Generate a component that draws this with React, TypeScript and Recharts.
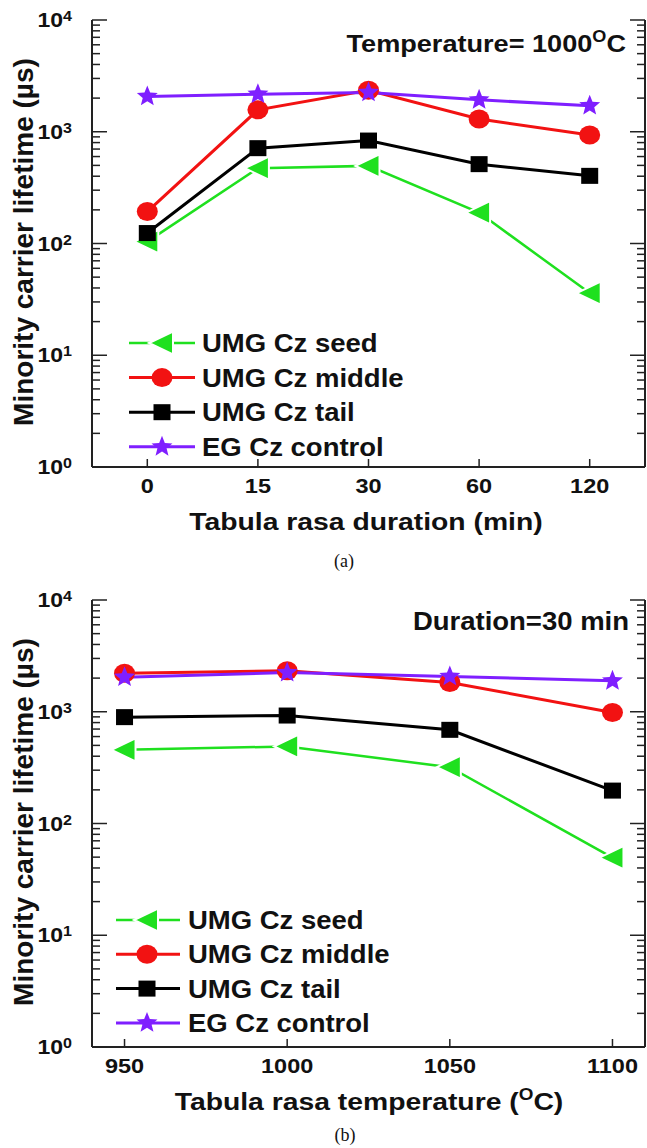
import React from 'react';
import { LineChart, Line, XAxis, YAxis, Legend } from 'recharts';

// panel (a): lifetime vs tabula rasa duration at 1000 C
const durationLabels = ['0', '15', '30', '60', '120'];
const durationSeed = [104, 472, 495, 189, 36];
const durationMiddle = [193, 1570, 2350, 1300, 935];
const durationTail = [124, 713, 834, 513, 403];
const durationControl = [2070, 2170, 2250, 1930, 1710];

// panel (b): lifetime vs tabula rasa temperature, 30 min
const temperatures = [950, 1000, 1050, 1100];
const temperatureSeed = [456, 489, 319, 49.5];
const temperatureMiddle = [2210, 2330, 1830, 985];
const temperatureTail = [895, 925, 689, 197];
const temperatureControl = [2040, 2240, 2070, 1890];

const seriesNames = ['UMG Cz seed', 'UMG Cz middle', 'UMG Cz tail', 'EG Cz control'];
const majorTicks = [1, 10, 100, 1000, 10000];

const FONT = '"Liberation Sans", Arial, Helvetica, sans-serif';
const AXIS = '#222';
const TEXT = '#111';

const seriesStyle = [
  { key: 'seed', color: '#1fe01f', shape: 'triangle', width: 2.5 },
  { key: 'middle', color: '#f21212', shape: 'circle', width: 3 },
  { key: 'tail', color: '#000000', shape: 'square', width: 3 },
  { key: 'control', color: '#7f1fff', shape: 'star', width: 3 },
];

const durationData = durationLabels.map((label, i) => ({
  idx: i,
  label,
  seed: durationSeed[i],
  middle: durationMiddle[i],
  tail: durationTail[i],
  control: durationControl[i],
}));

const temperatureData = temperatures.map((t, i) => ({
  temp: t,
  seed: temperatureSeed[i],
  middle: temperatureMiddle[i],
  tail: temperatureTail[i],
  control: temperatureControl[i],
}));

// minor ticks 2..9 inside every decade
const allTicks: number[] = [];
majorTicks.forEach((m, i) => {
  allTicks.push(m);
  if (i < majorTicks.length - 1) {
    for (let k = 2; k <= 9; k++) allTicks.push(m * k);
  }
});

const isMajor = (v: number) => {
  const l = Math.log10(v);
  return Math.abs(l - Math.round(l)) < 1e-6;
};

function starPoints(cx: number, cy: number, R: number, r: number) {
  const pts: string[] = [];
  for (let i = 0; i < 10; i++) {
    const a = -Math.PI / 2 + (i * Math.PI) / 5;
    const rad = i % 2 === 0 ? R : r;
    pts.push(`${cx + rad * Math.cos(a)},${cy + rad * Math.sin(a)}`);
  }
  return pts.join(' ');
}

const Marker = ({ shape, color, cx, cy }: any) => {
  if (cx == null || cy == null) return null;
  switch (shape) {
    case 'triangle':
      return (
        <polygon
          points={`${cx - 13},${cy} ${cx + 11},${cy - 11.5} ${cx + 11},${cy + 11.5}`}
          fill={color}
          stroke="#fff"
          strokeWidth={2}
        />
      );
    case 'circle':
      return <ellipse cx={cx} cy={cy} rx={10.5} ry={9.5} fill={color} />;
    case 'square':
      return <rect x={cx - 8.5} y={cy - 8} width={17} height={16} fill={color} />;
    default:
      return <polygon points={starPoints(cx, cy, 11, 4.8)} fill={color} />;
  }
};

const LeftTick = (props: any) => {
  const { x, y, payload } = props;
  const v = payload.value;
  const major = isMajor(v);
  const exp = Math.round(Math.log10(v));
  return (
    <g>
      <line x1={x} x2={x + (major ? 15 : 8)} y1={y} y2={y} stroke={AXIS} strokeWidth={1.5} />
      {major && (
        <g transform={`translate(${x - 20},${y + 7}) scale(1.15,1)`}>
          <text textAnchor="end" fontFamily={FONT} fontWeight="bold" fontSize={20} fill={TEXT}>
            10
            <tspan dy={-6} fontSize={14}>
              {exp}
            </tspan>
          </text>
        </g>
      )}
    </g>
  );
};

const RightTick = (props: any) => {
  const { x, y, payload } = props;
  const major = isMajor(payload.value);
  return <line x1={x} x2={x - (major ? 15 : 8)} y1={y} y2={y} stroke={AXIS} strokeWidth={1.5} />;
};

const BottomTick = (props: any) => {
  const { x, y, payload, labels } = props;
  const label = labels ? labels[payload.value] : String(payload.value);
  return (
    <g>
      <line x1={x} x2={x} y1={y} y2={y - 8} stroke={AXIS} strokeWidth={1.5} />
      <g transform={`translate(${x},${y + 26}) scale(1.12,1)`}>
        <text textAnchor="middle" fontFamily={FONT} fontWeight="bold" fontSize={21} fill={TEXT}>
          {label}
        </text>
      </g>
    </g>
  );
};

const LegendBox = ({ lineX1, lineX2, markerX, textX, rowY0, rowGap }: any) => (
  <svg width={330} height={150} style={{ display: 'block', overflow: 'visible' }}>
    {seriesStyle.map((s, i) => {
      const y = rowY0 + i * rowGap;
      return (
        <g key={s.key}>
          <line x1={lineX1} x2={lineX2} y1={y} y2={y} stroke={s.color} strokeWidth={s.width} />
          <Marker shape={s.shape} color={s.color} cx={markerX} cy={y} />
          <g transform={`translate(${textX},${y + 9}) scale(1.1,1)`}>
            <text fontFamily={FONT} fontWeight="bold" fontSize={25} fill={TEXT}>
              {seriesNames[i]}
            </text>
          </g>
        </g>
      );
    })}
  </svg>
);

const renderLines = () =>
  seriesStyle.map((s) => (
    <Line
      key={s.key}
      xAxisId="b"
      yAxisId="l"
      type="linear"
      dataKey={s.key}
      name={s.key}
      stroke={s.color}
      strokeWidth={s.width}
      isAnimationActive={false}
      dot={(p: any) => <Marker key={`${s.key}-${p.index}`} shape={s.shape} color={s.color} cx={p.cx} cy={p.cy} />}
      activeDot={false}
    />
  ));

const yAxes = () => [
  <YAxis
    key="l"
    yAxisId="l"
    type="number"
    scale="log"
    domain={[1, 10000]}
    allowDataOverflow
    ticks={allTicks}
    interval={0}
    width={92}
    tickSize={0}
    tickMargin={0}
    axisLine={{ stroke: AXIS, strokeWidth: 2 }}
    tickLine={false}
    tick={(p: any) => <LeftTick {...p} />}
  />,
  <YAxis
    key="r"
    yAxisId="r"
    orientation="right"
    type="number"
    scale="log"
    domain={[1, 10000]}
    allowDataOverflow
    ticks={allTicks}
    interval={0}
    width={2}
    tickSize={0}
    tickMargin={0}
    axisLine={{ stroke: AXIS, strokeWidth: 2 }}
    tickLine={false}
    tick={(p: any) => <RightTick {...p} />}
  />,
];

const textStyle = { fontFamily: FONT, fontWeight: 'bold' as const, fill: TEXT };

export default function App() {
  return (
    <div style={{ position: 'absolute', left: 0, top: 0, width: 647, height: 1148, background: '#fff' }}>
      <div style={{ position: 'absolute', left: 0, top: 0 }}>
        <LineChart width={647} height={580} data={durationData} margin={{ top: 20, right: 0, bottom: 0, left: 0 }}>
          <XAxis
            xAxisId="b"
            dataKey="idx"
            type="number"
            domain={[-0.5, 4.5]}
            ticks={[0, 1, 2, 3, 4]}
            interval={0}
            height={113}
            tickSize={0}
            tickMargin={0}
            axisLine={{ stroke: AXIS, strokeWidth: 2 }}
            tickLine={false}
            tick={(p: any) => <BottomTick {...p} labels={durationLabels} />}
          />
          <XAxis
            xAxisId="t"
            orientation="top"
            dataKey="idx"
            type="number"
            domain={[-0.5, 4.5]}
            height={0}
            tick={false}
            tickLine={false}
            axisLine={{ stroke: AXIS, strokeWidth: 2 }}
          />
          {yAxes()}
          <Legend
            layout="vertical"
            align="center"
            verticalAlign="middle"
            wrapperStyle={{ left: 120, top: 320, width: 330, height: 150 }}
            content={() => (
              <LegendBox lineX1={9} lineX2={75} markerX={42} textX={82} rowY0={23} rowGap={34.6} />
            )}
          />
          {renderLines()}
        </LineChart>
      </div>

      <div style={{ position: 'absolute', left: 0, top: 580 }}>
        <LineChart width={647} height={568} data={temperatureData} margin={{ top: 20, right: 0, bottom: 0, left: 0 }}>
          <XAxis
            xAxisId="b"
            dataKey="temp"
            type="number"
            domain={[940, 1110]}
            ticks={temperatures}
            interval={0}
            height={101}
            tickSize={0}
            tickMargin={0}
            axisLine={{ stroke: AXIS, strokeWidth: 2 }}
            tickLine={false}
            tick={(p: any) => <BottomTick {...p} />}
          />
          <XAxis
            xAxisId="t"
            orientation="top"
            dataKey="temp"
            type="number"
            domain={[940, 1110]}
            height={0}
            tick={false}
            tickLine={false}
            axisLine={{ stroke: AXIS, strokeWidth: 2 }}
          />
          {yAxes()}
          <Legend
            layout="vertical"
            align="center"
            verticalAlign="middle"
            wrapperStyle={{ left: 107, top: 317, width: 330, height: 150 }}
            content={() => (
              <LegendBox lineX1={9} lineX2={73} markerX={40} textX={81} rowY0={23} rowGap={34.3} />
            )}
          />
          {renderLines()}
        </LineChart>
      </div>

      <svg
        width={647}
        height={1148}
        style={{ position: 'absolute', left: 0, top: 0, pointerEvents: 'none' }}
      >
        {/* panel (a) */}
        <text transform="translate(33,242) rotate(-90)" textAnchor="middle" fontSize={28} {...textStyle}>
          Minority carrier lifetime (µs)
        </text>
        <g transform="translate(366,530) scale(1.18,1)">
          <text textAnchor="middle" fontSize={24} {...textStyle}>
            Tabula rasa duration (min)
          </text>
        </g>
        <g transform="translate(626,52) scale(1.13,1)">
          <text textAnchor="end" fontSize={24} {...textStyle}>
            Temperature= 1000
            <tspan dy={-10} fontSize={16}>
              O
            </tspan>
            <tspan dy={10} fontSize={24}>
              C
            </tspan>
          </text>
        </g>
        <text x={344} y={567} textAnchor="middle" fontSize={18} fontFamily='"Liberation Serif", "Times New Roman", serif' fill={TEXT}>
          (a)
        </text>

        {/* panel (b) */}
        <text transform="translate(33,822) rotate(-90)" textAnchor="middle" fontSize={28} {...textStyle}>
          Minority carrier lifetime (µs)
        </text>
        <g transform="translate(369,1110) scale(1.18,1)">
          <text textAnchor="middle" fontSize={24} {...textStyle}>
            Tabula rasa temperature (
            <tspan dy={-10} fontSize={16}>
              O
            </tspan>
            <tspan dy={10} fontSize={24}>
              C)
            </tspan>
          </text>
        </g>
        <g transform="translate(629,630) scale(1.1,1)">
          <text textAnchor="end" fontSize={25} {...textStyle}>
            Duration=30 min
          </text>
        </g>
        <text x={345} y={1141} textAnchor="middle" fontSize={18} fontFamily='"Liberation Serif", "Times New Roman", serif' fill={TEXT}>
          (b)
        </text>
      </svg>
    </div>
  );
}
